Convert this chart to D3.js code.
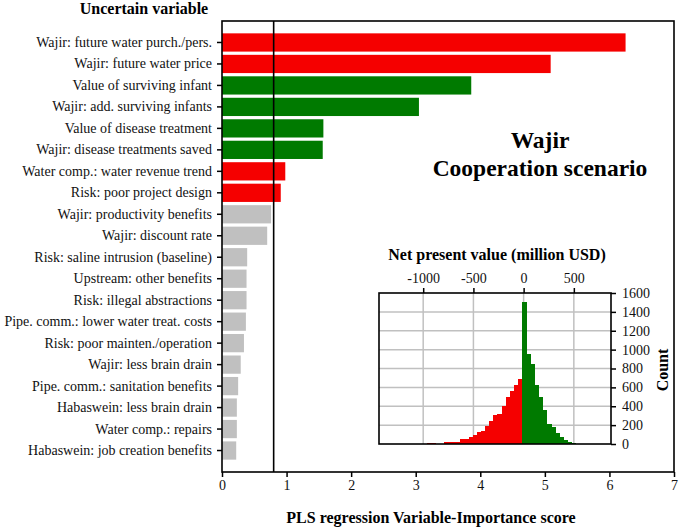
<!DOCTYPE html>
<html>
<head>
<meta charset="utf-8">
<script src="https://cdn.jsdelivr.net/npm/d3@7"></script>
<style>
  body { margin: 0; background: #fff; }
  svg { display: block; font-family: "Liberation Serif", "Times New Roman", serif; }
</style>
</head>
<body>
<div id="chart"></div>
<script>
// Variables, ranked by VIP score
const variables = [
  "Wajir: future water purch./pers.",
  "Wajir: future water price",
  "Value of surviving infant",
  "Wajir: add. surviving infants",
  "Value of disease treatment",
  "Wajir: disease treatments saved",
  "Water comp.: water revenue trend",
  "Risk: poor project design",
  "Wajir: productivity benefits",
  "Wajir: discount rate",
  "Risk: saline intrusion (baseline)",
  "Upstream: other benefits",
  "Risk: illegal abstractions",
  "Pipe. comm.: lower water treat. costs",
  "Risk: poor mainten./operation",
  "Wajir: less brain drain",
  "Pipe. comm.: sanitation benefits",
  "Habaswein: less brain drain",
  "Water comp.: repairs",
  "Habaswein: job creation benefits"
];
const vipScores = [6.25, 5.09, 3.86, 3.05, 1.57, 1.56, 0.98, 0.91, 0.76, 0.70,
  0.39, 0.38, 0.38, 0.37, 0.34, 0.29, 0.25, 0.23, 0.23, 0.22];
// effect direction: neg = red, pos = green, none = below threshold
const effects = ["neg", "neg", "pos", "pos", "pos", "pos", "neg", "neg",
  "none", "none", "none", "none", "none", "none", "none", "none", "none", "none", "none", "none"];
const vipThreshold = 0.8;
const vipTicks = [0, 1, 2, 3, 4, 5, 6, 7];

// NPV histogram (million USD)
const npvBinWidth = 41;
const npvSplit = -15;
const npvNegCounts = [10, 10, 3, 3, 22, 18, 18, 25, 53, 57, 74, 99, 131, 138, 191,
  241, 305, 316, 401, 493, 560, 624, 688];
const npvPosCounts = [1500, 955, 850, 620, 495, 365, 215, 175, 115, 75, 45, 20, 8, 3];
const npvTicks = [-1000, -500, 0, 500];
const countTicks = [0, 200, 400, 600, 800, 1000, 1200, 1400, 1600];

const colorOf = { neg: "#f50000", pos: "#007a00", none: "#c0c0c0" };

const width = 680, height = 530;
const m = { top: 21, right: 6, bottom: 58, left: 222 };

const svg = d3.select("#chart").append("svg")
  .attr("width", width)
  .attr("height", height);

// axis styling: serif text, hyphen minus, thicker ticks
function styleAxis(g) {
  g.attr("font-family", null).attr("font-size", null);
  g.select(".domain").remove();
  g.selectAll("text").attr("font-size", 14).attr("fill", "#111");
  g.selectAll("line").attr("stroke-width", 1.5);
}
const plain = d => String(d);

// ---- main chart ----
const x = d3.scaleLinear()
  .domain([0, 7])
  .range([m.left, width - m.right]);

const y = d3.scaleBand()
  .domain(variables)
  .range([m.top, height - m.bottom])
  .paddingInner(0.15)
  .paddingOuter(0.575);

svg.append("g")
  .selectAll("rect")
  .data(variables)
  .join("rect")
  .attr("x", x(0))
  .attr("y", d => y(d))
  .attr("width", (d, i) => x(vipScores[i]) - x(0))
  .attr("height", y.bandwidth())
  .attr("fill", (d, i) => colorOf[effects[i]]);

svg.append("line")
  .attr("x1", x(vipThreshold)).attr("x2", x(vipThreshold))
  .attr("y1", m.top).attr("y2", height - m.bottom)
  .attr("stroke", "#000")
  .attr("stroke-width", 1.6);

svg.append("g")
  .attr("transform", `translate(${m.left},0)`)
  .call(d3.axisLeft(y).tickSize(5).tickPadding(5))
  .call(styleAxis);

svg.append("g")
  .attr("transform", `translate(0,${height - m.bottom})`)
  .call(d3.axisBottom(x).tickValues(vipTicks).tickFormat(plain).tickSize(5).tickPadding(3))
  .call(styleAxis);

svg.append("rect")
  .attr("x", m.left).attr("y", m.top)
  .attr("width", width - m.right - m.left)
  .attr("height", height - m.bottom - m.top)
  .attr("fill", "none")
  .attr("stroke", "#000")
  .attr("stroke-width", 1.6);

svg.append("text")
  .attr("x", 144).attr("y", 14)
  .attr("text-anchor", "middle")
  .attr("font-size", 16).attr("font-weight", "bold")
  .text("Uncertain variable");

svg.append("text")
  .attr("x", 431).attr("y", 523)
  .attr("text-anchor", "middle")
  .attr("font-size", 16).attr("font-weight", "bold")
  .text("PLS regression Variable-Importance score");

svg.append("text")
  .attr("x", 540).attr("y", 148)
  .attr("text-anchor", "middle")
  .attr("font-size", 23.5).attr("font-weight", "bold")
  .text("Wajir");
svg.append("text")
  .attr("x", 540).attr("y", 176)
  .attr("text-anchor", "middle")
  .attr("font-size", 23.5).attr("font-weight", "bold")
  .text("Cooperation scenario");

// ---- inset histogram ----
const inset = { left: 379, right: 611, top: 293, bottom: 444 };

const hx = d3.scaleLinear()
  .domain([-1440, 870])
  .range([inset.left, inset.right]);
const hy = d3.scaleLinear()
  .domain([0, 1600])
  .range([inset.bottom, inset.top]);

const bins = [];
npvNegCounts.forEach((c, i) => {
  const x0 = npvSplit - (npvNegCounts.length - i) * npvBinWidth;
  bins.push({ x0, x1: x0 + npvBinWidth, count: c, sign: "neg" });
});
npvPosCounts.forEach((c, i) => {
  const x0 = npvSplit + i * npvBinWidth;
  bins.push({ x0, x1: x0 + npvBinWidth, count: c, sign: "pos" });
});

const ig = svg.append("g");
ig.append("rect")
  .attr("x", inset.left).attr("y", inset.top)
  .attr("width", inset.right - inset.left)
  .attr("height", inset.bottom - inset.top)
  .attr("fill", "#fff");

ig.append("g")
  .selectAll("line")
  .data(npvTicks)
  .join("line")
  .attr("x1", d => hx(d)).attr("x2", d => hx(d))
  .attr("y1", inset.top).attr("y2", inset.bottom)
  .attr("stroke", "#c0c0c0").attr("stroke-width", 1.5);
ig.append("g")
  .selectAll("line")
  .data(countTicks.slice(1, -1))
  .join("line")
  .attr("x1", inset.left).attr("x2", inset.right)
  .attr("y1", d => hy(d)).attr("y2", d => hy(d))
  .attr("stroke", "#c0c0c0").attr("stroke-width", 1.5);

ig.append("g")
  .selectAll("rect")
  .data(bins)
  .join("rect")
  .attr("x", d => hx(d.x0))
  .attr("width", d => hx(d.x1) - hx(d.x0) + 0.6)
  .attr("y", d => hy(d.count))
  .attr("height", d => hy(0) - hy(d.count))
  .attr("fill", d => colorOf[d.sign])
  .attr("shape-rendering", "crispEdges");

ig.append("g")
  .attr("transform", `translate(0,${inset.top})`)
  .call(d3.axisTop(hx).tickValues(npvTicks).tickFormat(plain).tickSize(5).tickPadding(5))
  .call(styleAxis);

ig.append("g")
  .attr("transform", `translate(${inset.right},0)`)
  .call(d3.axisRight(hy).tickValues(countTicks).tickFormat(plain).tickSize(5).tickPadding(6))
  .call(styleAxis);

ig.append("rect")
  .attr("x", inset.left).attr("y", inset.top)
  .attr("width", inset.right - inset.left)
  .attr("height", inset.bottom - inset.top)
  .attr("fill", "none")
  .attr("stroke", "#000")
  .attr("stroke-width", 1.6);

ig.append("text")
  .attr("x", 497).attr("y", 260)
  .attr("text-anchor", "middle")
  .attr("font-size", 16).attr("font-weight", "bold")
  .text("Net present value (million USD)");

ig.append("text")
  .attr("transform", "translate(668,370) rotate(-90)")
  .attr("text-anchor", "middle")
  .attr("font-size", 16).attr("font-weight", "bold")
  .text("Count");
</script>
</body>
</html>
